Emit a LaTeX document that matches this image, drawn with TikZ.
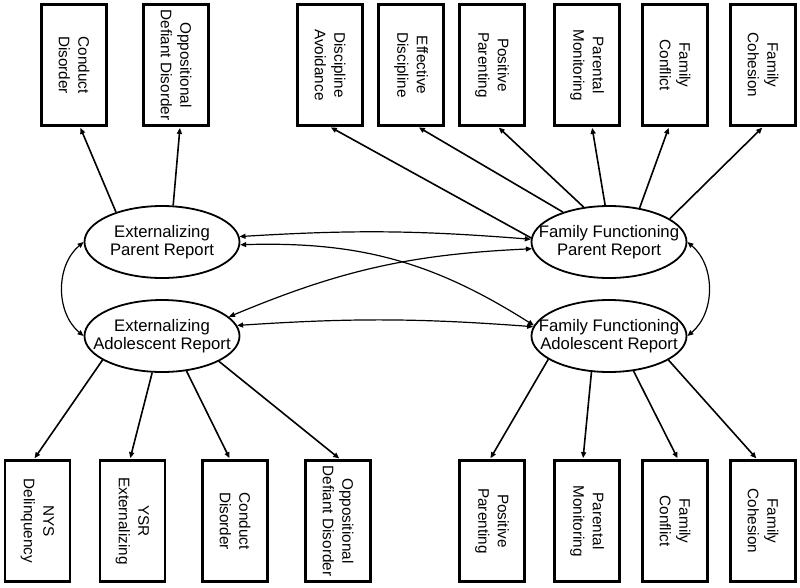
\documentclass[tikz,border=0pt]{standalone}
\usepackage{fontspec}
\setmainfont{Liberation Sans}
\usetikzlibrary{arrows.meta,shapes.geometric}

\begin{document}
\begin{tikzpicture}[x=1pt,y=1pt,
        >={Triangle[length=6pt,width=5pt]},
        obs/.style={draw,line width=2.8pt,rotate=-90,minimum width=121pt,
          minimum height=65pt,inner sep=0pt,align=center,
          font=\fontsize{15.3}{19.5}\selectfont},
        lat/.style={draw,ellipse,line width=1.8pt,minimum width=155pt,
          minimum height=72pt,inner sep=0pt},
        lattext/.style={align=center,inner sep=0pt,
          font=\fontsize{16.7}{18.3}\selectfont},
        load/.style={->,line width=1.6pt,shorten >=1pt},
        cov/.style={<->,line width=1.2pt}]
        \useasboundingbox (0,0) rectangle (800,-587);
        % indicators, parent report (top)
        \node[obs] (cdP) at (74,-65) {Conduct\\Disorder};
        \node[obs] (odP) at (176,-65) {Oppositional\\Defiant Disorder};
        \node[obs] (daP) at (330,-65) {Discipline\\Avoidance};
        \node[obs] (edP) at (411,-65) {Effective\\Discipline};
        \node[obs] (ppP) at (492,-65) {Positive\\Parenting};
        \node[obs] (pmP) at (587,-65) {Parental\\Monitoring};
        \node[obs] (fcP) at (675,-65) {Family\\Conflict};
        \node[obs] (chP) at (763,-65) {Family\\Cohesion};
        % indicators, adolescent report (bottom)
        \node[obs] (nysA) at (37.5,-521) {NYS\\Delinquency};
        \node[obs] (ysrA) at (132.5,-521) {YSR\\Externalizing};
        \node[obs] (cdA) at (235,-521) {Conduct\\Disorder};
        \node[obs] (odA) at (338,-521) {Oppositional\\Defiant Disorder};
        \node[obs] (ppA) at (492,-521) {Positive\\Parenting};
        \node[obs] (pmA) at (587,-521) {Parental\\Monitoring};
        \node[obs] (fcA) at (675,-521) {Family\\Conflict};
        \node[obs] (chA) at (763,-521) {Family\\Cohesion};
        % latent factors
        \node[lat,label={[lattext]center:{Externalizing\\Parent Report}}]
          (ep) at (162,-242) {};
        \node[lat,label={[lattext]center:{Externalizing\\Adolescent Report}}]
          (ea) at (162,-336) {};
        \node[lat,label={[lattext]center:{Family Functioning\\Parent Report}}]
          (fp) at (609,-242) {};
        \node[lat,label={[lattext]center:{Family Functioning\\Adolescent Report}}]
          (fa) at (609,-336) {};
        % loadings
        \draw[load] (ep.147) -- ([xshift=6pt]cdP.east);
        \draw[load] (ep.73) -- ([xshift=4pt]odP.east);
        \draw[load] (fp.177) -- (daP.east);
        \draw[load] (fp.147) -- ([xshift=7pt]edP.east);
        \draw[load] (fp.126) -- ([xshift=6pt]ppP.east);
        \draw[load] (fp.96) -- ([xshift=5pt]pmP.east);
        \draw[load] (fp.48) -- ([xshift=-6pt]fcP.east);
        \draw[load] (fp.21) -- (chP.east);
        \draw[load] (ea.-158) -- ([xshift=-3.5pt]nysA.west);
        \draw[load] (ea.-105) -- ([xshift=-2.5pt]ysrA.west);
        \draw[load] (ea.-55) -- ([xshift=-5pt]cdA.west);
        \draw[load] (ea.-24) -- ([xshift=2pt]odA.west);
        \draw[load] (fa.-159) -- ([xshift=-2pt]ppA.west);
        \draw[load] (fa.-116) -- ([xshift=-4pt]pmA.west);
        \draw[load] (fa.-55) -- ([xshift=3pt]fcA.west);
        \draw[load] (fa.-22) -- ([xshift=-6pt]chA.west);
        % correlations
        \draw[cov] (ep.west) to[bend right=50] (ea.west);
        \draw[cov] (fp.east) to[bend left=50] (fa.east);
        \draw[cov] (ep.4) to[bend left=4] (fp.178);
        \draw[cov] (ea.8) to[bend left=4] (fa.173);
        \draw[cov] (ep.-2) to[bend left=17] (fa.172);
        \draw[cov] (ea.16) to[bend left=10] (fp.-175);
\end{tikzpicture}
\end{document}
